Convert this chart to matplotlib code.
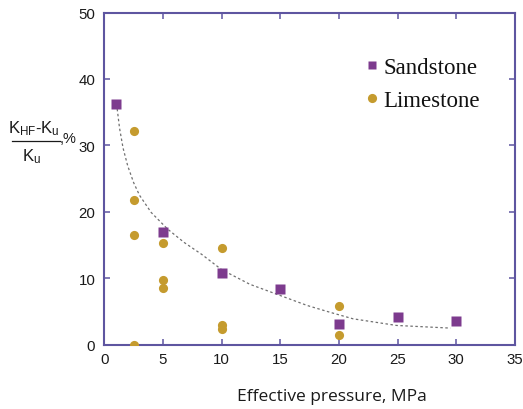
import numpy as np
import matplotlib
matplotlib.use("Agg")
from matplotlib import pyplot as plt
from matplotlib.lines import Line2D

# Datos
sand_x = [1, 5, 10, 15, 20, 25, 30]
sand_y = [36.3, 17.0, 10.8, 8.4, 3.1, 4.1, 3.6]

lime_x = [2.5, 2.5, 2.5, 2.5, 5, 5, 5, 10, 10, 10, 20, 20]
lime_y = [32.1, 21.8, 16.5, 0.0, 15.3, 9.7, 8.5, 14.5, 2.9, 2.4, 5.8, 1.4]

trend_x = [1.1, 1.3, 1.6, 2.0, 2.5, 3.0, 4.0, 5.4, 6.8, 8.3, 10.0, 12.4, 15.0, 17.3, 19.2, 21.2, 24.9, 29.5]
trend_y = [35.5, 32.6, 29.6, 26.9, 24.4, 22.5, 19.9, 17.4, 15.4, 13.6, 11.3, 9.1, 7.4, 5.9, 4.9, 3.9, 2.9, 2.5]

x_ticks = [0, 5, 10, 15, 20, 25, 30, 35]
y_ticks = [0, 10, 20, 30, 40, 50]

frame_color = '#5e55a0'
sand_color = '#7d3b8e'
lime_color = '#c59b2e'
text_color = '#1a1a1a'

plt.rcParams['font.family'] = ['Liberation Sans', 'DejaVu Sans']
plt.rcParams['mathtext.fontset'] = 'custom'
plt.rcParams['mathtext.rm'] = 'Liberation Sans'
plt.rcParams['mathtext.it'] = 'Liberation Sans'

fig = plt.figure(figsize=(5.23, 4.10), dpi=100)
ax = fig.add_axes([0.1994, 0.1568, 0.7853, 0.8102])

# Curva de ajuste
ax.plot(trend_x, trend_y, color='#707070', lw=0.9, linestyle=(0, (2, 2)), zorder=2)

# Series
ax.plot(sand_x, sand_y, 's', color=sand_color, ms=7.4, mec='none', label='Sandstone', zorder=3)
ax.plot(lime_x, lime_y, 'o', color=lime_color, ms=6.6, mec='none', label='Limestone', zorder=3)

ax.set_xlim(0, 35)
ax.set_ylim(0, 50)
ax.set_xticks(x_ticks)
ax.set_yticks(y_ticks)

for sp in ax.spines.values():
    sp.set_color(frame_color)
    sp.set_linewidth(1.5)

ax.tick_params(direction='in', length=4.5, width=1.1, color=frame_color,
               top=True, right=True, labelsize=10.8, labelcolor=text_color)
ax.tick_params(axis='x', pad=5)
ax.tick_params(axis='y', pad=6.5)

# Etiqueta eje x
fig.text(332 / 523, 1 - 397 / 410, 'Effective pressure, MPa', family=['Open Sans', 'DejaVu Sans'],
         fontsize=12.5, color=text_color, ha='center', va='center')

# Etiqueta eje y (fracción armada a mano)
fig.text(34 / 523, 1 - 129 / 410, r'$\mathrm{K_{HF}}$-$\mathrm{K_u}$', fontsize=12,
         color=text_color, ha='center', va='center')
fig.text(31 / 523, 1 - 157 / 410, r'$\mathrm{K_u}$', fontsize=12,
         color=text_color, ha='center', va='center')
fig.add_artist(Line2D([12 / 523, 60 / 523], [1 - 141.5 / 410, 1 - 141.5 / 410],
                      transform=fig.transFigure, color=text_color, lw=0.9))
fig.text(60 / 523, 1 - 139 / 410, ',%', fontsize=10.5, color=text_color, ha='left', va='center')

leg = ax.legend(loc='upper left', bbox_to_anchor=(365 / 523, 1 - 58 / 410),
                bbox_transform=fig.transFigure, frameon=False, borderpad=0, borderaxespad=0,
                handlelength=0.6, handletextpad=0.2, labelspacing=0.52,
                prop={'family': 'Liberation Serif', 'size': 16.5})
leg.legend_handles[0].set_markersize(6.0)
leg.legend_handles[1].set_markersize(6.6)
for t in leg.get_texts():
    t.set_color('#111111')

plt.savefig('out.png', dpi=100)
